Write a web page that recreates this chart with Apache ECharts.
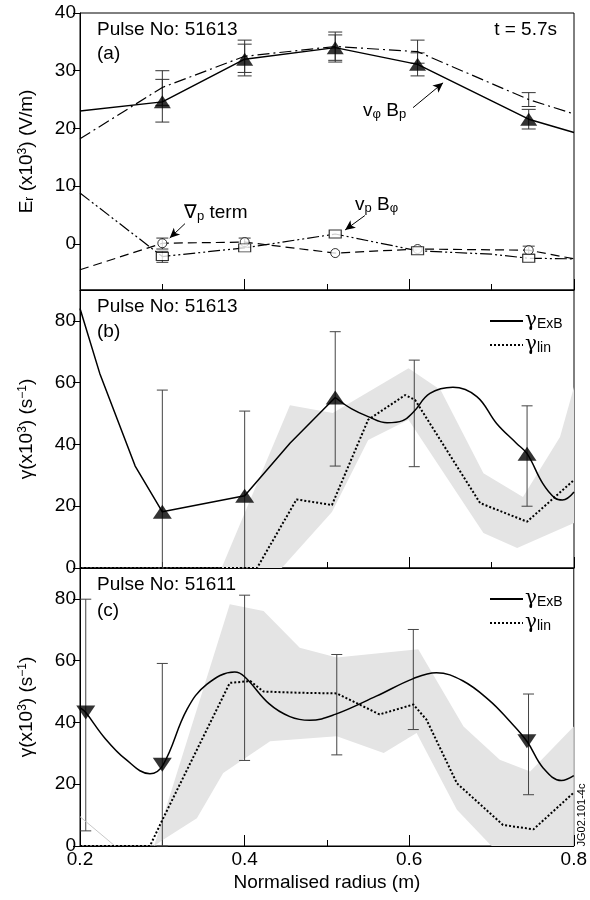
<!DOCTYPE html>
<html>
<head>
<meta charset="utf-8">
<script src="https://cdn.jsdelivr.net/npm/echarts@6/dist/echarts.min.js"></script>
<style>
html, body { margin: 0; padding: 0; background: #fff; }
#chart { width: 590px; height: 900px; }
</style>
</head>
<body>
<div id="chart"></div>
<script>
const FONT = '"Liberation Sans", Arial, sans-serif';

// x tick labels
const xLabels = [0.2, 0.4, 0.6, 0.8];
const yTicksA = [0, 10, 20, 30, 40];
const yTicksBC = [0, 20, 40, 60, 80];

// ---- panel (a): Er, vphi Bp, grad p term, vp Bphi ----
const erLine = [[0.2, 23], [0.3, 24.6], [0.4, 32.0], [0.51, 34.0], [0.61, 31.1], [0.745, 21.6], [0.8, 19.3]];
const erPoints = [[0.3, 24.6], [0.4, 32.0], [0.51, 34.0], [0.61, 31.1], [0.745, 21.6]];
const erErr = [[0.3, 21.1, 28.5], [0.4, 29.1, 34.6], [0.51, 31.5, 36.2], [0.61, 29.1, 33.1], [0.745, 19.9, 23.3]];
const vphiLine = [[0.2, 18.2], [0.3, 27.1], [0.4, 32.5], [0.51, 34.2], [0.61, 33.3], [0.745, 25.0], [0.8, 22.5]];
const vphiErr = [[0.3, 24.0, 30.0], [0.4, 29.7, 35.3], [0.51, 31.8, 36.7], [0.61, 31.3, 35.3], [0.745, 23.8, 26.2]];
const gradpLine = [[0.2, -4.5], [0.3, 0.1], [0.4, 0.3], [0.51, -1.6], [0.61, -0.9], [0.745, -1.1], [0.8, -2.6]];
const gradpPoints = [[0.3, 0.1], [0.4, 0.3], [0.51, -1.6], [0.61, -0.9], [0.745, -1.1]];
const gradpErr = [[0.3, -0.9, 1.0], [0.4, -0.6, 1.0], [0.745, -1.8, -0.4]];
const vpLine = [[0.2, 8.8], [0.3, -2.2], [0.4, -0.7], [0.51, 1.7], [0.61, -1.2], [0.7, -1.8], [0.745, -2.5], [0.8, -2.6]];
const vpPoints = [[0.3, -2.2], [0.4, -0.7], [0.51, 1.7], [0.61, -1.2], [0.745, -2.5]];
const vpErr = [[0.3, -3.2, -1.3]];
// annotation arrows (from, to) in data units
const arrowsA = [
  [[0.6045, 23.6], [0.641, 27.9]],
  [[0.3275, 3.5], [0.309, 1.0]],
  [[0.546, 4.9], [0.522, 2.4]]
];

// ---- panel (b): pulse 51613 ----
const exbBLeft = [[0.2, 84], [0.224, 63], [0.267, 33], [0.3, 18.2], [0.4, 23.4], [0.455, 40.4], [0.51, 55.2]];
const exbBRight = [[0.51, 55.2], [0.53, 51.5], [0.55, 49], [0.573, 47], [0.592, 47.7], [0.605, 50.5],
  [0.625, 56.5], [0.653, 58.5], [0.682, 55.5], [0.706, 46.8], [0.73, 40.4], [0.743, 37], [0.762, 27.4],
  [0.777, 22.6], [0.786, 22], [0.8, 24.6]];
const triB = [[0.3, 18.2], [0.4, 23.4], [0.51, 55.2], [0.743, 37]];
const errB = [[0.3, 0, 57.6], [0.4, 0, 50.8], [0.51, 33, 76.5], [0.606, 32.8, 67.3], [0.743, 20, 52.5]];
const linB = [[0.2, 0], [0.415, 0], [0.463, 22.2], [0.506, 20.4], [0.55, 48], [0.595, 56], [0.607, 54.4],
  [0.686, 21], [0.743, 15], [0.8, 28.5]];
const bandBUpper = [[0.372, 0], [0.455, 52.7], [0.507, 50.2], [0.599, 64.7], [0.638, 57.6], [0.69, 30.7],
  [0.738, 23], [0.783, 42.4], [0.8, 58.6]];
const bandBLower = [[0.372, 0], [0.445, 0], [0.506, 18.1], [0.55, 41.4], [0.599, 48], [0.69, 11.3],
  [0.731, 6.5], [0.8, 14.6]];

// ---- panel (c): pulse 51611 ----
const exbC = [[0.2, 44.8], [0.207, 43.2], [0.23, 35], [0.255, 28.2], [0.285, 23.4], [0.301, 26.3], [0.33, 44.2],
  [0.354, 52.3], [0.388, 56.3], [0.4, 54.8], [0.43, 46], [0.455, 41.9], [0.479, 40.7], [0.51, 42.6],
  [0.56, 48.5], [0.605, 54.2], [0.633, 56.1], [0.665, 53.5], [0.698, 47], [0.72, 41], [0.743, 33.9],
  [0.763, 25.2], [0.785, 21.2], [0.8, 22.8]];
const triC = [[0.207, 43.2], [0.3, 26.3], [0.743, 33.9]];
const errC = [[0.207, 4.9, 79.9], [0.3, 0, 59.1], [0.4, 27.7, 81.2], [0.512, 29.5, 62], [0.605, 37.7, 70.1], [0.745, 16.6, 49.2]];
const linC = [[0.2, 0], [0.285, 0], [0.3, 8.4], [0.382, 52.8], [0.407, 53.4], [0.423, 50], [0.467, 49.6],
  [0.512, 49.4], [0.564, 42.6], [0.605, 45.8], [0.621, 40.9], [0.658, 20.3], [0.714, 6.8], [0.751, 5.4], [0.8, 17.3]];
const bandCUpper = [[0.29, 0], [0.382, 78.3], [0.423, 76.1], [0.467, 64.2], [0.512, 61], [0.611, 63.7],
  [0.666, 38.7], [0.71, 27.9], [0.747, 24.1], [0.8, 38.7]];
const bandCLower = [[0.29, 0], [0.301, 2], [0.342, 9], [0.374, 23.6], [0.431, 33.9], [0.512, 35.5],
  [0.569, 30.1], [0.609, 36.6], [0.658, 11.7], [0.7, 0], [0.8, 0]];
const greyC = [[0.2, 9.5], [0.2425, 0]];

const chart = echarts.init(document.getElementById('chart'));

function xAxisFor(i, labels) {
  return {
    type: 'value', gridIndex: i, min: 0.2, max: 0.8, interval: 0.2,
    axisLine: { onZero: false, lineStyle: { color: '#000', width: 1 } },
    axisTick: { inside: true, length: 11, lineStyle: { color: '#000' } },
    minorTick: { show: true, splitNumber: 2, length: 6, lineStyle: { color: '#000' } },
    splitLine: { show: false },
    axisLabel: {
      show: labels, fontSize: 19, fontFamily: FONT, color: '#000', margin: 4,
      customValues: xLabels, formatter: v => v.toFixed(1)
    },
    name: labels ? 'Normalised radius (m)' : '',
    nameLocation: 'middle', nameGap: 27,
    nameTextStyle: { fontSize: 19, fontFamily: FONT, color: '#000' }
  };
}

const nameRich = {
  m: { fontSize: 19, fontFamily: FONT, color: '#000' },
  sb: { fontSize: 12, fontFamily: FONT, color: '#000', verticalAlign: 'bottom' },
  sp: { fontSize: 12, fontFamily: FONT, color: '#000', verticalAlign: 'top' }
};

function yAxisFor(i, min, max, ticks, name) {
  return {
    type: 'value', gridIndex: i, min, max,
    axisLine: { lineStyle: { color: '#000', width: 1 } },
    axisTick: { length: 7, customValues: ticks, lineStyle: { color: '#000' } },
    axisLabel: { fontSize: 19, fontFamily: FONT, color: '#000', margin: 4, customValues: ticks },
    splitLine: { show: false },
    name, nameLocation: 'middle', nameGap: 44, nameRotate: 90,
    nameTextStyle: { rich: nameRich }
  };
}

function lineSeries(i, data, style, name, smooth) {
  return {
    type: 'line', name, xAxisIndex: i, yAxisIndex: i, data, symbol: 'none', showSymbol: false,
    smooth: smooth || false,
    itemStyle: { color: '#000' },
    lineStyle: Object.assign({ color: '#000', width: 1.3 }, style), z: 4
  };
}

function markers(i, data, symbol, size, filled, rotate) {
  return {
    type: 'scatter', xAxisIndex: i, yAxisIndex: i, data, symbol, symbolSize: size,
    symbolRotate: rotate || 0, z: 6,
    itemStyle: filled ? { color: '#000' } : { color: '#fff', borderColor: '#000', borderWidth: 1 }
  };
}

function errorBars(i, data, cap, color) {
  return {
    type: 'custom', xAxisIndex: i, yAxisIndex: i, data, z: 3, silent: true,
    renderItem(params, api) {
      const x = api.value(0);
      const lo = api.coord([x, api.value(1)]);
      const hi = api.coord([x, api.value(2)]);
      const h = cap / 2;
      const style = { stroke: color, lineWidth: 1 };
      return {
        type: 'group', children: [
          { type: 'line', shape: { x1: lo[0], y1: lo[1], x2: hi[0], y2: hi[1] }, style },
          { type: 'line', shape: { x1: lo[0] - h, y1: lo[1], x2: lo[0] + h, y2: lo[1] }, style },
          { type: 'line', shape: { x1: hi[0] - h, y1: hi[1], x2: hi[0] + h, y2: hi[1] }, style }
        ]
      };
    }
  };
}

function band(i, upper, lower) {
  return {
    type: 'custom', xAxisIndex: i, yAxisIndex: i, data: [0], z: 1, silent: true,
    renderItem(params, api) {
      const pts = upper.concat(lower.slice().reverse()).map(p => api.coord(p));
      return { type: 'polygon', shape: { points: pts }, style: { fill: '#e4e4e4' } };
    }
  };
}

const legendRich = {
  g: { fontSize: 20, fontFamily: 'DejaVu Serif', color: '#000' },
  s: { fontSize: 14, fontFamily: FONT, color: '#000', verticalAlign: 'bottom' }
};
function legendFor(top) {
  return {
    data: ['ExB', 'lin'], orient: 'vertical', left: 484, top,
    itemWidth: 33, itemHeight: 14, itemGap: 4, selectedMode: false,
    itemStyle: { opacity: 0 },
    formatter: n => '{g|γ}{s|' + n + '}',
    textStyle: { rich: legendRich, padding: [0, 0, 0, -3] }
  };
}

const labRich = {
  m: { fontSize: 19, fontFamily: FONT, color: '#000' },
  sb: { fontSize: 13, fontFamily: FONT, color: '#000', verticalAlign: 'bottom' }
};
function label(x, y, text, extra) {
  return {
    type: 'text', x, y, silent: true,
    style: Object.assign({ text, font: '19px ' + FONT, fill: '#000', rich: labRich, textVerticalAlign: 'middle' }, extra || {})
  };
}

const ds = [12, 4, 2, 4];
const dsd = [12, 3, 2, 3, 2, 3];

chart.setOption({
  animation: false,
  backgroundColor: '#fff',
  grid: [
    { left: 80, right: 16, top: 13, height: 277, show: true, borderColor: '#000', borderWidth: 1 },
    { left: 80, right: 16, top: 290, height: 278, show: true, borderColor: '#000', borderWidth: 1 },
    { left: 80, right: 16, top: 568, height: 278, show: true, borderColor: '#000', borderWidth: 1 }
  ],
  xAxis: [xAxisFor(0, false), xAxisFor(1, false), xAxisFor(2, true)],
  yAxis: [
    yAxisFor(0, -8, 40, yTicksA, '{m|E}{sb|r}{m| (x10}{sp|3}{m|) (V/m)}'),
    yAxisFor(1, 0, 90, yTicksBC, '{m|γ(x10}{sp|3}{m|) (s}{sp|−1}{m|)}'),
    yAxisFor(2, 0, 90, yTicksBC, '{m|γ(x10}{sp|3}{m|) (s}{sp|−1}{m|)}')
  ],
  legend: [legendFor(306), legendFor(584)],
  series: [
    // (a)
    errorBars(0, erErr, 14, '#333'),
    errorBars(0, vphiErr, 14, '#333'),
    errorBars(0, gradpErr, 12, '#333'),
    errorBars(0, vpErr, 12, '#333'),
    Object.assign(lineSeries(0, erLine, { width: 1.5 }), {
      markLine: {
        silent: true, symbol: ['none', 'arrow'], symbolSize: [7, 10],
        lineStyle: { color: '#000', width: 1, type: 'solid' }, label: { show: false },
        data: arrowsA.map(a => [{ coord: a[0] }, { coord: a[1] }])
      }
    }),
    lineSeries(0, vphiLine, { type: ds, width: 1.2 }),
    lineSeries(0, gradpLine, { type: [9, 5], width: 1.2 }),
    lineSeries(0, vpLine, { type: dsd, width: 1.2 }),
    markers(0, erPoints, 'triangle', [17, 13], true),
    markers(0, gradpPoints, 'circle', 9, false),
    markers(0, vpPoints, 'rect', [12, 8], false),
    // (b)
    band(1, bandBUpper, bandBLower),
    errorBars(1, errB, 11, '#444'),
    lineSeries(1, exbBRight, { width: 1.5 }, 'ExB', 0.4),
    lineSeries(1, exbBLeft, { width: 1.5 }),
    lineSeries(1, linB, { type: [2, 2], width: 2 }, 'lin'),
    markers(1, triB, 'triangle', [19, 14], true),
    // (c)
    band(2, bandCUpper, bandCLower),
    lineSeries(2, greyC, { color: '#c8c8c8', width: 1 }),
    errorBars(2, errC, 11, '#444'),
    lineSeries(2, exbC, { width: 1.5 }, 'ExB', 0.4),
    lineSeries(2, linC, { type: [2, 2], width: 2 }, 'lin'),
    markers(2, triC, 'triangle', [19, 14], true, 180)
  ],
  graphic: [
    label(97, 30, 'Pulse No: 51613'),
    label(97, 54, '(a)'),
    label(557, 30, 't = 5.7s', { textAlign: 'right' }),
    label(363, 111, '{m|v}{sb|φ}{m| B}{sb|p}'),
    label(184, 213, '{m|∇}{sb|p}{m| term}'),
    label(355, 205, '{m|v}{sb|p}{m| B}{sb|φ}'),
    label(97, 307, 'Pulse No: 51613'),
    label(97, 332, '(b)'),
    label(97, 585, 'Pulse No: 51611'),
    label(97, 611, '(c)'),
    {
      type: 'text', x: 582, y: 815, rotation: Math.PI / 2, silent: true,
      style: { text: 'JG02.101-4c', font: '11px ' + FONT, fill: '#000', textAlign: 'center', textVerticalAlign: 'middle' }
    }
  ]
});
</script>
</body>
</html>
